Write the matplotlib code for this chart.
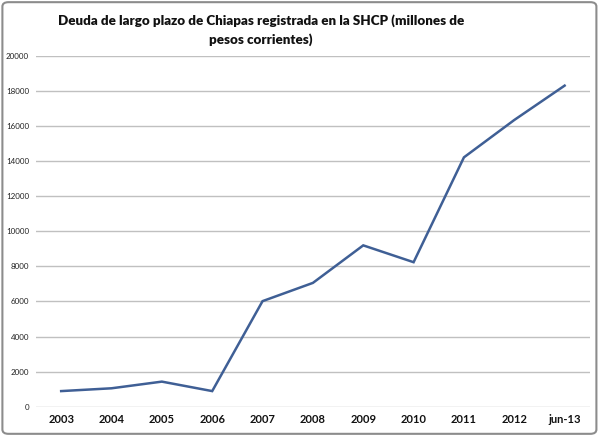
import matplotlib
matplotlib.use("Agg")
import matplotlib.pyplot as plt
from matplotlib.patches import FancyBboxPatch

categories = ["2003", "2004", "2005", "2006", "2007", "2008", "2009", "2010", "2011", "2012", "jun-13"]
deuda = [890, 1050, 1430, 890, 6020, 7060, 9200, 8240, 14220, 16350, 18310]
yticks = list(range(0, 20001, 2000))

plt.rcParams['font.family'] = ['Lato', 'DejaVu Sans']

fig = plt.figure(figsize=(6, 4.36), dpi=100)
ax = fig.add_axes([0.06, 0.0672, 0.923, 0.8044])

x = list(range(len(categories)))
ax.plot(x, deuda, color="#3f5f95", linewidth=1.8, solid_joinstyle="miter")

ax.set_xlim(-0.5, len(categories) - 0.5)
ax.set_ylim(0, 20000)
ax.set_yticks(yticks)
ax.set_yticklabels([str(t) for t in yticks], fontsize=5.8, color="#222222")
ax.set_xticks(x)
ax.set_xticklabels(categories, fontsize=8, fontweight="bold", color="#111111")
ax.tick_params(axis="x", length=0, pad=5)
ax.tick_params(axis="y", length=0, pad=5)
ax.grid(axis="y", color="#c0c0c0", linewidth=1)
ax.set_axisbelow(True)
for s in ax.spines.values():
    s.set_visible(False)

fig.text(0.435, 0.967, "Deuda de largo plazo de Chiapas registrada en la SHCP (millones de\npesos corrientes)",
         ha="center", va="top", fontsize=9.6, fontweight="heavy", linespacing=1.6, color="#111111")

border = FancyBboxPatch((0.004, 0.005), 0.99, 0.99, boxstyle="round,pad=0,rounding_size=0.01",
                        transform=fig.transFigure, facecolor="none", edgecolor="#8c8c8c", linewidth=1.5)
fig.patches.append(border)

fig.savefig("out.png", dpi=100)
